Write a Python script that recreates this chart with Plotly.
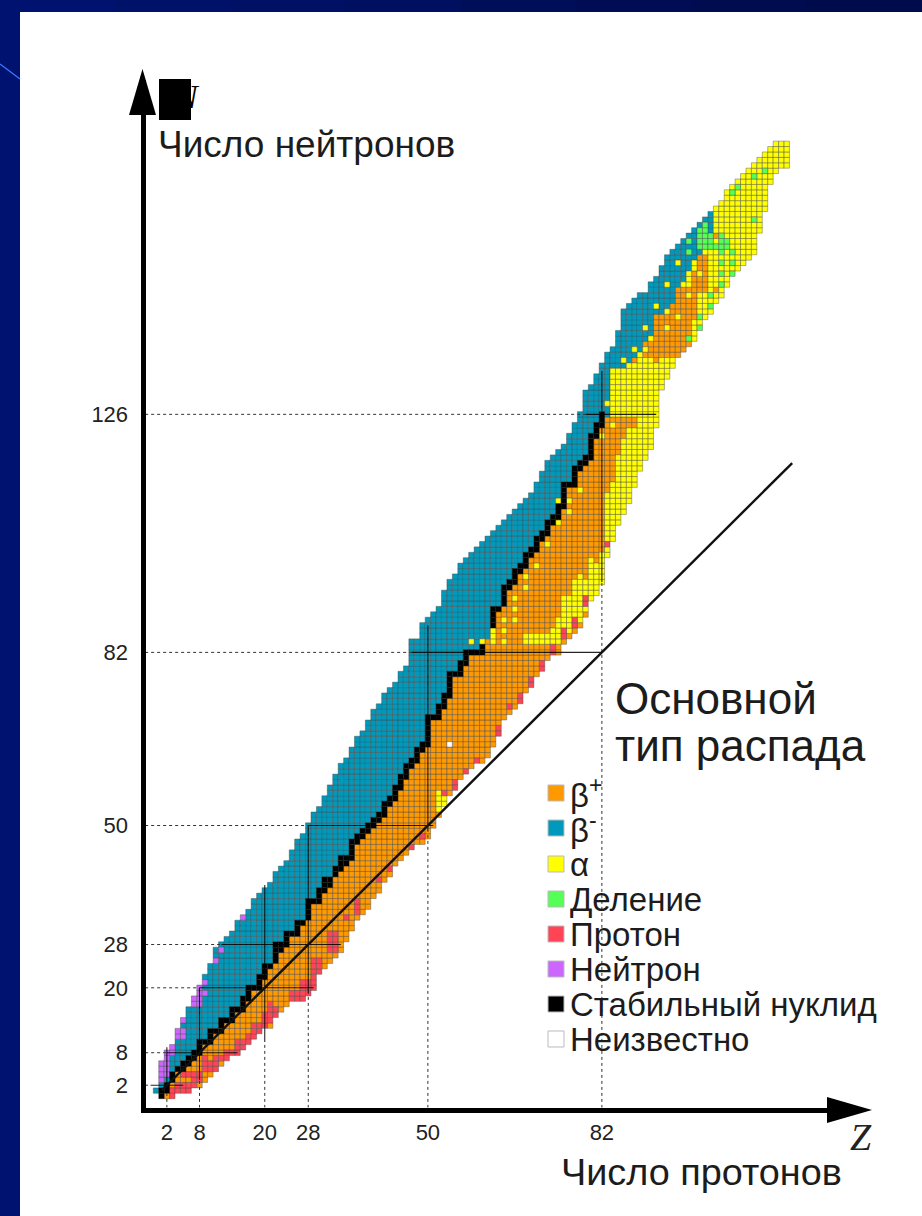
import plotly.graph_objects as go

W, H = 922, 1216
FONT = "Liberation Sans"

# ---------- data ----------
magic_numbers = [2, 8, 20, 28, 50, 82, 126]
z_magic = [2, 8, 20, 28, 50, 82]

proton_numbers = list(range(1, 117))
n_min = [0,0,0,1,1,1,2,2,3,4,5,6,7,8,8,9,10,11,12,13,13,15,16,17,18,18,18,19,20,23,
         24,25,26,27,29,31,33,34,35,37,38,40,41,43,44,45,46,47,47,48,50,52,54,56,58,59,60,61,62,62,
         63,65,68,70,71,72,73,75,76,78,79,81,82,82,84,85,86,87,89,92,93,95,100,103,106,108,110,113,116,118,
         120,124,131,133,135,137,138,139,140,143,144,145,147,148,150,152,153,154,155,156,160,164,169,171,172,172]
n_max = [6,8,9,12,14,16,18,20,22,24,27,28,29,30,32,33,34,36,37,38,39,41,42,43,45,47,48,50,52,53,
         55,57,59,61,62,64,66,67,69,71,72,74,75,76,78,79,84,84,87,88,89,90,93,95,96,98,99,100,101,102,
         103,104,105,106,107,108,109,110,111,113,115,117,118,119,120,122,124,126,130,131,133,135,137,138,141,145,146,147,148,148,
         150,151,153,155,156,157,158,159,160,161,162,163,164,165,167,168,169,170,171,172,173,174,175,176,176,176]
stable_lo = [0,1,3,5,5,6,7,8,10,10,12,12,14,14,16,16,18,20,20,22,24,25,27,28,30,30,32,33,36,36,
             38,39,41,42,43,44,47,48,49,50,51,52,54,55,57,59,61,62,64,65,70,70,72,74,78,78,80,82,82,82,
             85,87,90,91,94,95,97,98,100,101,103,104,106,107,109,113,113,116,117,118,122,124]
stable_hi = [1,2,4,5,6,7,8,10,10,12,12,14,14,16,16,18,20,20,22,24,24,28,28,30,30,32,32,36,36,38,
             40,40,42,44,44,47,48,49,50,51,52,54,55,57,59,61,62,64,65,70,70,72,74,78,78,80,82,82,82,83,
             84,90,90,94,95,97,98,100,101,103,104,106,107,109,113,113,116,117,118,122,124,126]
upper_split_z = list(range(83, 103))
upper_split_n = [125,134,134,134,135,136,137,138,140,142,143,145,146,147,150,152,154,155,157,159]

free_neutron_cell = [(0, 1)]
alpha_bands = [(68,84,85),(69,84,85),(70,84,85),(71,84,85),(72,84,85),(73,84,86),(74,84,88),(75,85,91),(76,86,92),
               (77,87,95),(78,88,96),(79,90,95),(80,92,99),(81,93,98),(82,95,100),(83,100,111),
               (84,103,113),(84,126,134),(85,106,118),(85,126,134),(86,108,121),(86,126,134),(87,110,123),(87,126,135),
               (88,113,123),(88,126,136),(89,116,137),(90,118,138),(91,120,140),(92,124,142),(93,131,143),(94,133,145),
               (95,135,146),(96,137,147),(97,138,150),(98,139,152),(99,140,154),(100,143,155),(101,144,157),(102,145,159),
               (103,147,164),(104,148,165),(105,150,167),(106,152,168),(107,153,169),(108,154,170),(109,155,171),(110,156,172),
               (111,160,173),(112,164,174),(113,169,175),(114,171,176),(115,172,176),(116,172,176),
               (52,53,56),(53,54,55),(62,84,86)]
alpha_cells = [(58,84),(60,84),(64,88),(64,86),(64,84),(66,92),(66,90),(66,88),(68,96),(68,94),(70,98),(72,102),(74,106),
               (74,110),(76,108),(76,110),(78,112),(75,92),(82,122),(84,124),(83,128),(86,136),(88,138),(90,142),
               (92,146),(94,150),(96,154),(90,138),(94,142),(96,144),(98,148),(100,152)]
orange_bands = [(90,137,139),(91,137,139),(92,137,144),(93,137,144),(94,137,144),(95,137,146),(96,137,149),(97,137,149),
                (98,139,149),(99,144,152),(100,149,155),(101,149,155),(103,159,159),(103,149,149),(87,124,125),(88,124,125)]
orange_cells = [(88,136),(92,136)]
fission_cells = [(112,171),(110,170),(107,168),(106,167),(110,162),(101,161),(100,160),(101,160),
                 (100,157),(101,157),(102,157),(103,157),(104,157),(105,157),(100,158),(101,158),(102,158),(104,158),(105,158),
                 (100,159),(101,159),(102,159),(104,159),(104,156),(106,156),(104,154),(106,154),(104,152),(106,152),(104,150),
                 (102,148),(100,144),(102,146),(100,142),(98,140),(98,156),(98,158)]
proton_cells = [(3,0),(3,1),(4,1),(4,2),(5,1),(5,2),(6,1),(6,2),(7,2),(7,3),(5,4),(6,4),(7,4),(8,3),(8,4),
                (9,5),(9,6),(9,7),(10,5),(10,6),(11,5),(11,6),(11,7),(12,7),(13,7),(13,8),(14,8),
                (15,8),(15,9),(15,10),(16,9),(16,10),(17,10),(17,11),(18,11),(18,12),(18,13),(19,12),(19,13),
                (20,13),(20,14),(20,15),(21,14),(21,15),(21,16),(21,17),(22,15),(22,16),
                (25,18),(25,19),(26,18),(26,19),(27,18),(27,19),(27,20),(27,21),(28,19),(28,20),(28,21),(29,20),(29,21),
                (29,22),(29,23),(29,24),(29,25),(30,23),(30,24),(30,25),(32,27),(32,28),(32,29),(32,30),(33,27),(33,28),(33,29),(33,30),
                (35,33),(37,34),(37,35),(37,36),(41,40),(43,42),(47,46),(49,48),(53,56),(55,57),(55,58),(57,60),(59,62),
                (63,67),(63,68),(65,72),(67,73),(67,74),(69,76),(69,77),(71,79),(71,80),(73,82),(73,83),(75,85),(75,86),
                (77,87),(77,88),(79,91),(79,92),(83,102)]
neutron_cells = [(1,3),(1,4),(1,5),(1,6),(2,4),(2,5),(2,6),(2,7),(2,8),(3,8),(3,9),(4,11),(4,12),(5,11),(5,12),(5,14),
                 (7,17),(7,18),(8,17),(8,18),(8,19),(8,20),(9,19),(9,21),(11,25),(12,27),(16,33)]
unknown_cells = [(54,65)]

legend_labels = ["β<sup>+</sup>", "β<sup>-</sup>", "α", "Деление", "Протон", "Нейтрон", "Стабильный нуклид", "Неизвестно"]
legend_colors = ["#ff9900", "#0099bb", "#ffff00", "#55ff55", "#ff4455", "#cc66ff", "#000000", "#ffffff"]
legend_rows_px = [793, 828, 864, 899, 934, 969, 1004, 1039]
trace_names = ["β+", "β-", "α", "Деление", "Протон", "Нейтрон", "Стабильный нуклид", "Неизвестно"]

# solid stretches of the magic-number guide lines
h_solid_from = [-1, 2, 8, 12, 28, 47, 79]
h_solid_to   = [5, 15, 29, 34, 51, 82, 92]
v_solid_from = [1, 3, 10, 19, 49, 95]
v_solid_to   = [9, 20, 39, 50, 87, 134]
diagonal_ends = [1, 117]
z_axis_foot = -2.0
n_axis_foot = -2.2

# ---------- classify cells ----------
cells = {}
for i, z in enumerate(proton_numbers):
    if z <= 82:
        lo, hi = stable_lo[i], stable_hi[i]
    else:
        split = upper_split_n[upper_split_z.index(z)] if z in upper_split_z else n_max[i]
        lo, hi = split + 1, split
    for n in range(n_min[i], n_max[i] + 1):
        if n < lo:
            cells[(z, n)] = 0
        elif n <= hi:
            cells[(z, n)] = 6
        else:
            cells[(z, n)] = 1

def put_band(bands, kind):
    for z, a, b in bands:
        for n in range(a, b + 1):
            if (z, n) in cells:
                cells[(z, n)] = kind

def put_cells(items, kind):
    for c in items:
        cells[c] = kind

put_cells(free_neutron_cell, 1)
put_band(alpha_bands, 2)
put_band(orange_bands, 0)
put_cells(orange_cells, 0)
put_cells(alpha_cells, 2)
put_cells(fission_cells, 3)
put_cells(proton_cells, 4)
put_cells(neutron_cells, 5)
put_cells(unknown_cells, 7)

fig = go.Figure()
for kind, (name, color) in enumerate(zip(trace_names, legend_colors)):
    pts = [c for c, k in cells.items() if k == kind]
    edge = "#000000" if kind == 6 else "rgba(70,70,70,0.6)"
    width = 0.3 if kind == 6 else 0.7
    fig.add_trace(go.Scatter(
        x=[p[0] for p in pts], y=[p[1] for p in pts], mode="markers", name=name,
        marker=dict(symbol="square", size=5.4, color=color, line=dict(width=width, color=edge)),
        hoverinfo="skip", showlegend=False))

def line(x, y, width=1.0, color="rgba(0,0,0,0.85)", dash="solid"):
    fig.add_trace(go.Scatter(x=x, y=y, mode="lines", showlegend=False, hoverinfo="skip",
                             line=dict(color=color, width=width, dash=dash)))

for n, a, b in zip(magic_numbers, h_solid_from, h_solid_to):
    line([z_axis_foot, a], [n, n], 1, "#333333", "3px,3px")
    line([a, b], [n, n], 1.1)
for z, a, b in zip(z_magic, v_solid_from, v_solid_to):
    line([z, z], [n_axis_foot, a], 1, "#333333", "3px,3px")
    line([z, z], [a, b], 1.1)
line(diagonal_ends, diagonal_ends, 2.4, "#111111")

# ---------- layout helpers ----------
def px(x): return x / W
def py(y): return 1 - y / H

def rect(x0, y0, x1, y1, color, layer="below", line_color=None):
    return dict(type="rect", xref="paper", yref="paper", x0=px(x0), x1=px(x1), y0=py(y0), y1=py(y1),
                fillcolor=color, line=dict(width=1 if line_color else 0, color=line_color or color), layer=layer)

shapes = [rect(20, 12, W, H, "#ffffff")]
strip = ["#00126f", "#00116a", "#001065", "#000f60", "#000e5a", "#000d55", "#000c50", "#000b4b"]
for i, c in enumerate(strip):
    shapes.append(rect(i * W / len(strip), 0, (i + 1) * W / len(strip) + 1, 12, c))
shapes.append(dict(type="line", xref="paper", yref="paper", x0=0, y0=py(64), x1=px(20), y1=py(79),
                   line=dict(color="#3f78ff", width=1.2), layer="below"))
def tri(pts):
    return dict(type="path", xref="paper", yref="paper", fillcolor="#000000", line=dict(width=0), layer="above",
                path="M " + " L ".join(f"{px(a):.5f},{py(b):.5f}" for a, b in pts) + " Z")
shapes.append(tri([(142.5, 69), (129, 115), (156, 115)]))
shapes.append(tri([(872, 1110), (827, 1097), (827, 1123)]))
shapes.append(rect(159, 79, 191, 120, "#000000", "above"))
for c, y in zip(legend_colors, legend_rows_px):
    shapes.append(rect(548, y - 8, 564, y + 8, c, "above", "#bbbbbb"))

def text(x, y, s, size, anchor="left", color="#1c1c1c", family=FONT, italic=False):
    if italic:
        s = f"<i>{s}</i>"
    return dict(xref="paper", yref="paper", x=px(x), y=py(y), text=s, showarrow=False, xanchor=anchor, yanchor="middle",
                font=dict(family=family, size=size, color=color))

annotations = [
    text(172, 96, "N", 34, "left", "#000000", "Liberation Serif", True),
    text(156, 144, "Число нейтронов", 37),
    text(559, 1172, "Число протонов", 37.8),
    text(848, 1137, "Z", 38, "left", "#222222", "Liberation Serif", True),
    text(613, 698, "Основной", 44),
    text(613, 745, "тип распада", 44),
]
for s, y in zip(legend_labels, legend_rows_px):
    annotations.append(text(568, y, s, 33))

x0_px, x1_px, y0_px, y1_px = 145.5, 860, 1107.5, 80
fig.update_layout(
    width=W, height=H, margin=dict(l=0, r=0, t=0, b=0),
    paper_bgcolor="#00126f", plot_bgcolor="rgba(0,0,0,0)", showlegend=False,
    shapes=shapes, annotations=annotations,
    xaxis=dict(domain=[px(x0_px), px(x1_px)], range=[(x0_px - 156) / 5.4375, (x1_px - 156) / 5.4375],
               showgrid=False, zeroline=False, showline=True, linecolor="#000000", linewidth=5,
               tickmode="array", tickvals=z_magic, ticktext=[str(v) for v in z_magic], ticks="outside",
               ticklen=1, tickcolor="rgba(0,0,0,0)", tickfont=dict(family=FONT, size=22, color="#222222")),
    yaxis=dict(domain=[py(y0_px), py(y1_px)], range=[(1096 - y0_px) / 5.41, (1096 - y1_px) / 5.41],
               showgrid=False, zeroline=False, showline=True, linecolor="#000000", linewidth=5,
               tickmode="array", tickvals=magic_numbers, ticktext=[str(v) for v in magic_numbers], ticks="outside",
               ticklen=8, tickcolor="rgba(0,0,0,0)", tickfont=dict(family=FONT, size=22, color="#222222")),
)
fig.write_html("out.html", config={"displayModeBar": False},
               post_script="document.body.style.margin='0';document.body.style.background='#00126f';")
